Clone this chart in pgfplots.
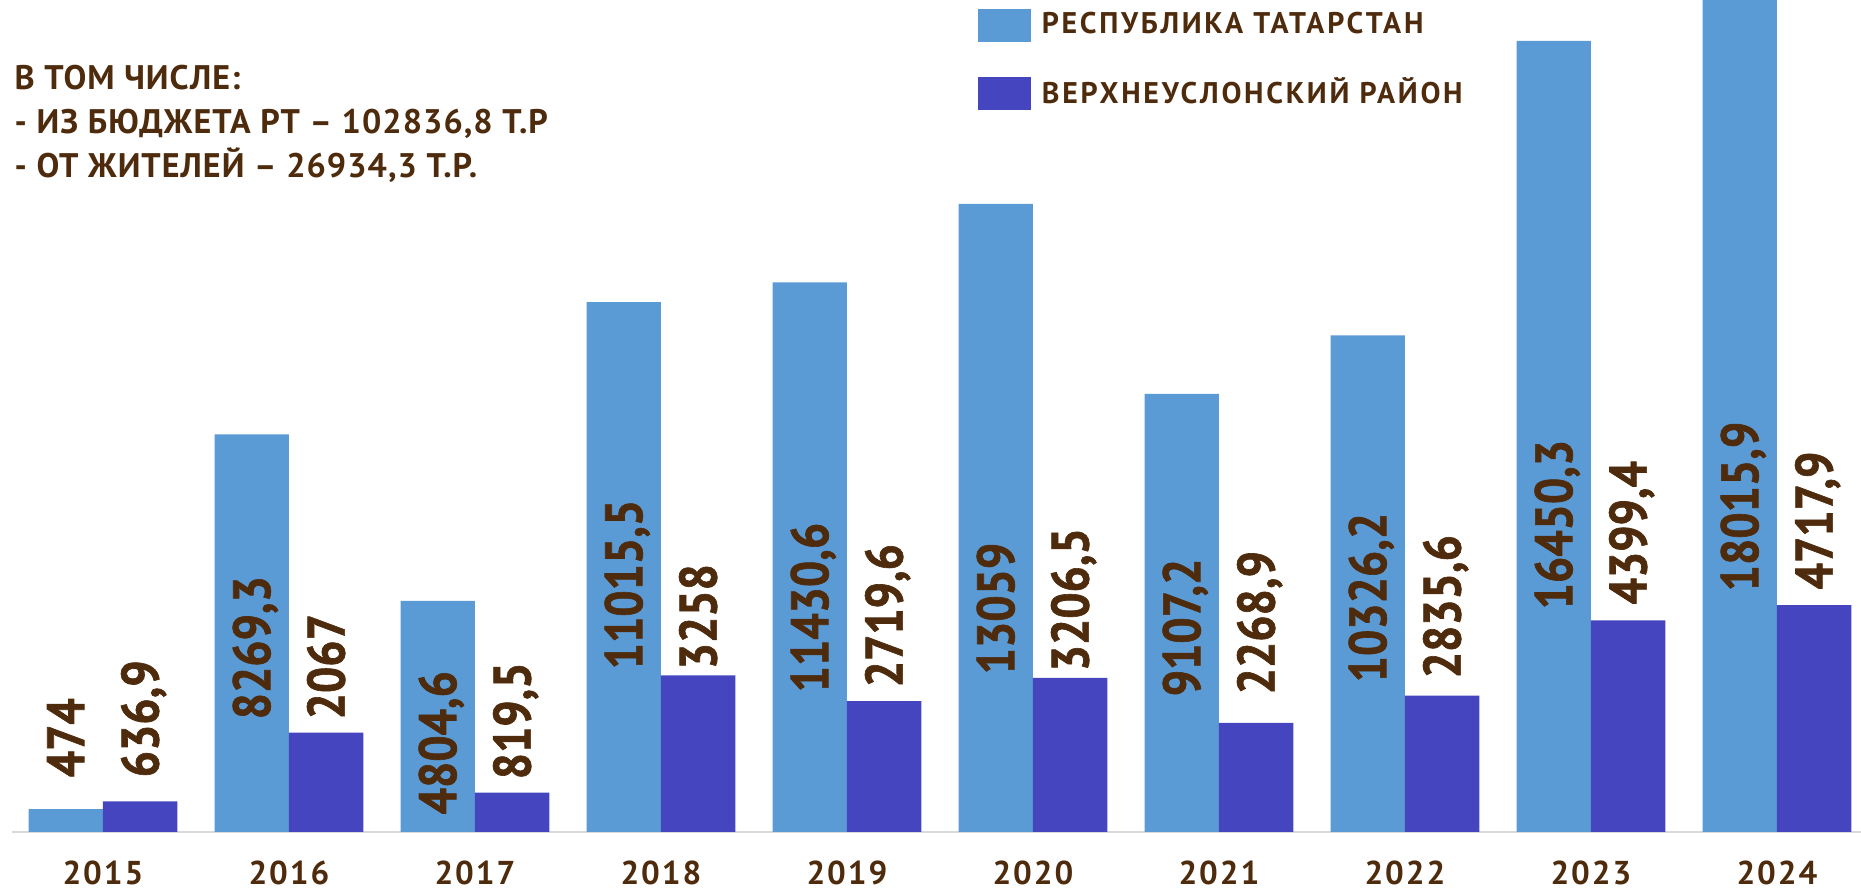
\documentclass[border=0pt]{standalone}
\usepackage{fontspec}
\setmainfont{PT Sans}
\newfontfamily\numfont{PT Sans}[FakeStretch=0.88, FakeBold=1.2]
\newfontfamily\yearfont{PT Sans}[LetterSpace=6]
\newfontfamily\legfont{PT Sans}[LetterSpace=9]
\newfontfamily\notefont{PT Sans}[LetterSpace=3]
\usepackage{pgfplots}
\usepackage{pgfplotstable}
\pgfplotsset{compat=1.18}

\definecolor{rtblue}{RGB}{91,155,213}
\definecolor{vupurple}{RGB}{69,69,192}
\definecolor{txtbrown}{RGB}{78,43,12}
\definecolor{axisgray}{RGB}{217,217,217}

% year index, Республика Татарстан, Верхнеуслонский район
\pgfplotstableread{
x rt vu
0 474 636.9
1 8269.3 2067
2 4804.6 819.5
3 11015.5 3258
4 11430.6 2719.6
5 13059 3206.5
6 9107.2 2268.9
7 10326.2 2835.6
8 16450.3 4399.4
9 18015.9 4717.9
}\bardata

% label placement (start of the rotated text), as in the original
\pgfplotstableread{
x pos lbl
-0.2 1123 474
0.8 2328 8269,3
1.8 353 4804,6
2.8 3368 11015,5
3.8 2890 11430,6
4.8 3264 13059
5.8 2807 9107,2
6.8 3098 10326,2
7.8 4615 16450,3
8.8 4990 18015,9
}\rtlabels

\pgfplotstableread{
x pos lbl
0.2 1123 636,9
1.2 2328 2067
2.2 1081 819,5
3.2 3368 3258
4.2 2994 2719,6
5.2 3326 3206,5
6.2 2848 2268,9
7.2 3181 2835,6
8.2 4719 4399,4
9.2 5031 4717,9
}\vulabels

\pgfplotsset{
  vallabel/.style={only marks, mark=none, forget plot,
    nodes near coords, point meta=explicit symbolic,
    nodes near coords style={rotate=90, anchor=west, inner sep=0pt,
      text height=10.5pt, text depth=0pt, text=txtbrown,
      font=\numfont\bfseries\fontsize{15}{15}\selectfont}},
}

\begin{document}
\begin{tikzpicture}
\begin{axis}[
  scale only axis, width=184.9mm, height=83.2mm,
  xmin=-0.489, xmax=9.452, ymin=0, ymax=17300,
  axis x line=bottom, axis y line=none,
  x axis line style={-, draw=axisgray, line width=0.25mm},
  xtick={0,...,9},
  xticklabels={2015,2016,2017,2018,2019,2020,2021,2022,2023,2024},
  major tick length=0pt,
  xticklabel style={font=\yearfont\bfseries\fontsize{9.4}{10}\selectfont,
    text=txtbrown, anchor=base, yshift=-5.3mm, inner sep=0pt},
  ytick=\empty,
  legend style={at={(rel axis cs:0.522,0.990)}, anchor=north west,
    draw=none, fill=none, inner sep=0pt, row sep=3.5mm,
    font=\legfont\bfseries\fontsize{8.5}{9}\selectfont, text=txtbrown,
    nodes={inner sep=0pt},
    /tikz/every odd column/.append style={column sep=1.1mm}},
  legend cell align=left,
]
\addplot[ybar, bar width=0.4, bar shift=-0.2, fill=rtblue, draw=none,
  legend image code/.code={\fill[rtblue] (0mm,-1.65mm) rectangle (5.3mm,1.65mm);}]
  table[x=x, y=rt] {\bardata};
\addlegendentry{РЕСПУБЛИКА ТАТАРСТАН}
\addplot[ybar, bar width=0.4, bar shift=0.2, fill=vupurple, draw=none,
  legend image code/.code={\fill[vupurple] (0mm,-1.65mm) rectangle (5.3mm,1.65mm);}]
  table[x=x, y=vu] {\bardata};
\addlegendentry{ВЕРХНЕУСЛОНСКИЙ РАЙОН}

\addplot[vallabel] table[x=x, y=pos, meta=lbl] {\rtlabels};
\addplot[vallabel] table[x=x, y=pos, meta=lbl] {\vulabels};

% multi-line node: base anchor sits on the last line
\node[anchor=base west, align=left, inner sep=0pt, text=txtbrown,
  font=\notefont\bfseries\fontsize{9.7}{12.65}\selectfont, xshift=0.2mm, yshift=-17.8mm]
  at (rel axis cs:0,1)
  {В ТОМ ЧИСЛЕ:\\- ИЗ БЮДЖЕТА РТ – 102836,8 Т.Р\\- ОТ ЖИТЕЛЕЙ – 26934,3 Т.Р.};
\end{axis}
\pgfresetboundingbox
\path[use as bounding box] ([xshift=-1.2mm, yshift=-5.8mm]current axis.south west)
  rectangle (current axis.north east);
\end{tikzpicture}
\end{document}
